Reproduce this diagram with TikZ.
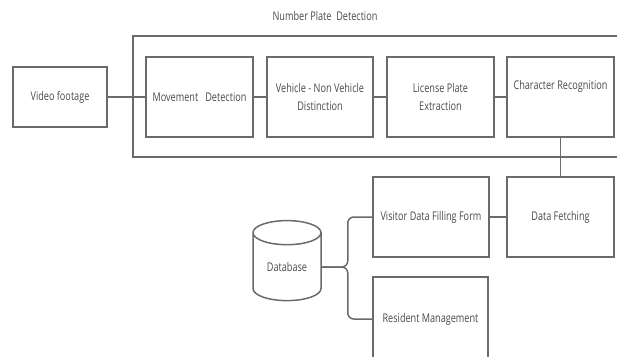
\documentclass[tikz,border=0pt]{standalone}
\usepackage{fontspec}
\setmainfont[FakeStretch=0.76]{Open Sans}
\usetikzlibrary{shapes.geometric}
\definecolor{linec}{HTML}{6A6A6A}
\definecolor{textc}{HTML}{4A4A4A}
\begin{document}
\begin{tikzpicture}[x=1pt,y=-1pt,
  box/.style={draw=linec,line width=1.5pt,minimum width=107pt,minimum height=80pt,inner sep=2pt,align=center,text=textc,font=\fontsize{12}{18}\selectfont},
  conn/.style={draw=linec,line width=1.5pt},
  lbl/.style={text=textc,font=\fontsize{12}{18}\selectfont}]
\useasboundingbox (0,0) rectangle (617,356);
\clip (0,0) rectangle (617,356);
\node[lbl] (title) at (325,16) {Number Plate\ \ Detection};
\node[draw=linec,line width=1.5pt,minimum width=500pt,minimum height=121pt,inner sep=0pt] (npd) at (383,96.5) {};
\node[box,minimum width=94pt,minimum height=60pt] (video) at (60,97) {Video footage};
\node[box] (move) at (199.5,97) {Movement\ \ \ Detection};
\node[box,minimum width=106pt] (veh) at (320,97) {Vehicle - Non Vehicle\\Distinction};
\node[box] (lic) at (440.5,97) {License Plate\\Extraction};
\node[box] (chr) at (560.5,97) {Character Recognition\\\strut};
\node[box,minimum width=116pt] (visit) at (431,217) {Visitor Data Filling Form};
\node[box,minimum width=107pt] (fetch) at (560.5,217) {Data Fetching};
\node[box,minimum width=115pt,minimum height=84pt] (res) at (430.5,319) {Resident Management};
\node[draw=linec,line width=1.5pt,cylinder,shape border rotate=90,aspect=0.6,minimum width=68pt,minimum height=80pt,inner sep=0pt,text=textc,font=\fontsize{12}{18}\selectfont] (db) at (287,267) {Database};
\draw[conn] (video) -- (move);
\draw[conn] (move) -- (veh);
\draw[conn] (veh) -- (lic);
\draw[conn] (lic) -- (chr);
\draw[conn] (chr) -- (fetch);
\draw[conn] (visit) -- (fetch);
\draw[conn,rounded corners=6pt] (db.east) -- ++(26,0) |- (visit.west);
\draw[conn,rounded corners=6pt] (db.east) -- ++(26,0) |- (res.west);
\end{tikzpicture}
\end{document}
